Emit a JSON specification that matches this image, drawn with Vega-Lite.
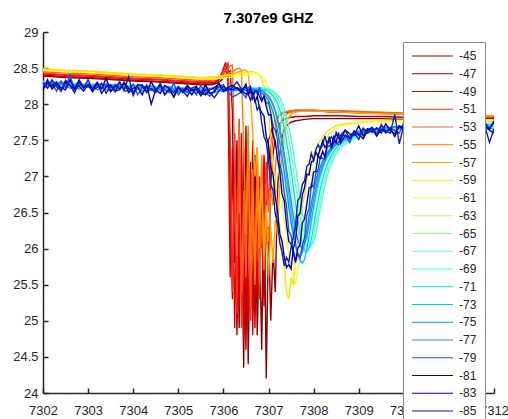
{"$schema":"https://vega.github.io/schema/vega-lite/v6.json","width":451,"height":361,"autosize":{"type":"none"},"padding":{"left":43,"top":32,"right":14,"bottom":26},
"title":{"text":"7.307e9 GHZ","font":"Liberation Sans","fontSize":15,"fontWeight":"bold","color":"#000000","offset":0,"anchor":"middle"},
"config":{"view":{"stroke":null},"axis":{"grid":false,"domainColor":"#262626","tickColor":"#262626","labelColor":"#262626","labelFont":"Liberation Sans","labelFontSize":13,"domainWidth":1.5,"tickWidth":1.5,"tickSize":-5}},
"data":{"values":[
{"x":7302,"n45":28.39,"n47":28.4,"n49":28.42,"n51":28.43,"n53":28.45,"n55":28.47,"n57":28.48,"n59":28.49,"n61":28.47,"n63":28.3,"n65":28.32,"n67":28.29,"n69":28.31,"n71":28.27,"n73":28.3,"n75":28.24,"n77":28.3,"n79":28.26,"n81":28.19,"n83":28.22,"n85":28.3},
{"x":7302.1,"n79":28.23,"n81":28.34,"n83":28.3,"n85":28.22},
{"x":7302.2,"n63":28.32,"n65":28.3,"n67":28.31,"n69":28.29,"n71":28.31,"n73":28.26,"n75":28.29,"n77":28.24,"n79":28.29,"n81":28.21,"n83":28.25,"n85":28.34},
{"x":7302.3,"n79":28.18,"n81":28.28,"n83":28.31,"n85":28.24},
{"x":7302.4,"n63":28.29,"n65":28.31,"n67":28.28,"n69":28.3,"n71":28.26,"n73":28.31,"n75":28.22,"n77":28.29,"n79":28.32,"n81":28.23,"n83":28.18,"n85":28.19},
{"x":7302.5,"n45":28.37,"n47":28.38,"n49":28.4,"n51":28.41,"n53":28.43,"n55":28.45,"n57":28.46,"n59":28.47,"n61":28.45,"n79":28.23,"n81":28.2,"n83":28.33,"n85":28.3},
{"x":7302.6,"n63":28.3,"n65":28.28,"n67":28.29,"n69":28.27,"n71":28.3,"n73":28.25,"n75":28.28,"n77":28.22,"n79":28.4,"n81":28.34,"n83":28.26,"n85":28.26},
{"x":7302.7,"n79":28.2,"n81":28.21,"n83":28.21,"n85":28.16},
{"x":7302.8,"n63":28.28,"n65":28.3,"n67":28.27,"n69":28.29,"n71":28.25,"n73":28.29,"n75":28.21,"n77":28.29,"n79":28.27,"n81":28.25,"n83":28.34,"n85":28.31},
{"x":7302.9,"n79":28.24,"n81":28.18,"n83":28.23,"n85":28.22},
{"x":7303,"n45":28.36,"n47":28.37,"n49":28.39,"n51":28.4,"n53":28.42,"n55":28.44,"n57":28.45,"n59":28.46,"n61":28.44,"n63":28.29,"n65":28.27,"n67":28.28,"n69":28.26,"n71":28.28,"n73":28.24,"n75":28.27,"n77":28.23,"n79":28.28,"n81":28.27,"n83":28.26,"n85":28.34},
{"x":7303.1,"n79":28.17,"n81":28.22,"n83":28.18,"n85":28.2},
{"x":7303.2,"n63":28.27,"n65":28.29,"n67":28.26,"n69":28.28,"n71":28.24,"n73":28.28,"n75":28.2,"n77":28.27,"n79":28.27,"n81":28.3,"n83":28.3,"n85":28.23},
{"x":7303.3,"n79":28.22,"n81":28.15,"n83":28.21,"n85":28.29},
{"x":7303.4,"n63":28.28,"n65":28.26,"n67":28.27,"n69":28.25,"n71":28.27,"n73":28.23,"n75":28.26,"n77":28.2,"n79":28.28,"n81":28.24,"n83":28.36,"n85":28.15},
{"x":7303.5,"n45":28.34,"n47":28.35,"n49":28.37,"n51":28.38,"n53":28.4,"n55":28.42,"n57":28.43,"n59":28.44,"n61":28.42,"n79":28.17,"n81":28.27,"n83":28.18,"n85":28.25},
{"x":7303.6,"n63":28.26,"n65":28.28,"n67":28.25,"n69":28.27,"n71":28.23,"n73":28.28,"n75":28.21,"n77":28.27,"n79":28.24,"n81":28.18,"n83":28.26,"n85":28.17},
{"x":7303.7,"n79":28.31,"n81":28.2,"n83":28.21,"n85":28.3},
{"x":7303.8,"n63":28.27,"n65":28.25,"n67":28.26,"n69":28.24,"n71":28.27,"n73":28.22,"n75":28.25,"n77":28.21,"n79":28.18,"n81":28.3,"n83":28.3,"n85":28.2},
{"x":7303.9,"n79":28.19,"n81":28.16,"n83":28.22,"n85":28.38},
{"x":7304,"n45":28.32,"n47":28.33,"n49":28.35,"n51":28.36,"n53":28.38,"n55":28.4,"n57":28.41,"n59":28.42,"n61":28.4,"n63":28.25,"n65":28.27,"n67":28.24,"n69":28.26,"n71":28.22,"n73":28.26,"n75":28.18,"n77":28.26,"n79":28.28,"n81":28.22,"n83":28.15,"n85":28.12},
{"x":7304.1,"n79":28.13,"n81":28.24,"n83":28.27,"n85":28.26},
{"x":7304.2,"n63":28.26,"n65":28.24,"n67":28.25,"n69":28.23,"n71":28.25,"n73":28.21,"n75":28.24,"n77":28.18,"n79":28.23,"n81":28.13,"n83":28.25,"n85":28.27},
{"x":7304.3,"n79":28.25,"n81":28.26,"n83":28.17,"n85":28.16},
{"x":7304.4,"n63":28.24,"n65":28.26,"n67":28.23,"n69":28.25,"n71":28.21,"n73":28.25,"n75":28.19,"n77":28.25,"n79":28.2,"n81":28,"n83":28.31,"n85":28.22},
{"x":7304.5,"n45":28.31,"n47":28.32,"n49":28.34,"n51":28.35,"n53":28.37,"n55":28.39,"n57":28.4,"n59":28.41,"n61":28.39,"n79":28.16,"n81":28.2,"n83":28.2,"n85":28.18},
{"x":7304.6,"n63":28.25,"n65":28.23,"n67":28.24,"n69":28.22,"n71":28.24,"n73":28.21,"n75":28.23,"n77":28.19,"n79":28.27,"n81":28.27,"n83":28.15,"n85":28.29},
{"x":7304.7,"n79":28.2,"n81":28.13,"n83":28.26,"n85":28.13},
{"x":7304.8,"n63":28.23,"n65":28.25,"n67":28.22,"n69":28.24,"n71":28.2,"n73":28.24,"n75":28.16,"n77":28.24,"n79":28.17,"n81":28.21,"n83":28.22,"n85":28.22},
{"x":7304.9,"n79":28.29,"n81":28.1,"n83":28.1,"n85":28.16},
{"x":7305,"n45":28.29,"n47":28.3,"n49":28.32,"n51":28.33,"n53":28.35,"n55":28.37,"n57":28.38,"n59":28.39,"n61":28.37,"n63":28.24,"n65":28.22,"n67":28.23,"n69":28.21,"n71":28.24,"n73":28.19,"n75":28.22,"n77":28.17,"n79":28.13,"n81":28.23,"n83":28.24,"n85":28.24},
{"x":7305.1,"n79":28.22,"n81":28.16,"n83":28.17,"n85":28.18},
{"x":7305.2,"n63":28.22,"n65":28.24,"n67":28.21,"n69":28.23,"n71":28.19,"n73":28.23,"n75":28.16,"n77":28.23,"n79":28.17,"n81":28.22,"n83":28.26,"n85":28.11},
{"x":7305.3,"n79":28.22,"n81":28.13,"n83":28.19,"n85":28.22},
{"x":7305.4,"n63":28.23,"n65":28.21,"n67":28.22,"n69":28.2,"n71":28.22,"n73":28.18,"n75":28.21,"n77":28.16,"n79":28.13,"n81":28.24,"n83":28.21,"n85":28.25},
{"x":7305.5,"n45":28.27,"n47":28.28,"n49":28.3,"n51":28.31,"n53":28.33,"n55":28.35,"n57":28.36,"n59":28.37,"n61":28.35,"n79":28.26,"n81":28.16,"n83":28.12,"n85":28.12},
{"x":7305.6,"n63":28.21,"n65":28.23,"n67":28.2,"n69":28.22,"n71":28.18,"n73":28.22,"n75":28.15,"n77":28.21,"n79":28.16,"n81":28.13,"n83":28.27,"n85":28.2},
{"x":7305.7,"n79":28.11,"n81":28.2,"n83":28.15,"n85":28.16},
{"x":7305.75,"n45":28.27,"n47":28.28,"n49":28.3,"n51":28.31,"n53":28.33,"n55":28.35,"n57":28.36,"n59":28.38,"n61":28.35},
{"x":7305.8,"n45":28.28,"n47":28.29,"n49":28.31,"n51":28.32,"n53":28.34,"n55":28.35,"n57":28.36,"n59":28.38,"n61":28.35,"n63":28.23,"n65":28.22,"n67":28.22,"n69":28.21,"n71":28.24,"n73":28.21,"n75":28.16,"n77":28.22,"n79":28.19,"n81":28.23,"n83":28.17,"n85":28.09},
{"x":7305.85,"n45":28.29,"n47":28.31,"n49":28.33,"n51":28.34,"n53":28.35,"n55":28.36,"n57":28.37,"n59":28.38,"n61":28.35},
{"x":7305.9,"n45":28.31,"n47":28.34,"n49":28.36,"n51":28.37,"n53":28.37,"n55":28.37,"n57":28.37,"n59":28.39,"n61":28.36,"n79":28.24,"n81":28.28,"n83":28.29,"n85":28.18},
{"x":7305.95,"n45":28.33,"n47":28.37,"n49":28.41,"n51":28.41,"n53":28.39,"n55":28.38,"n57":28.38,"n59":28.39,"n61":28.36},
{"x":7306,"n45":28.36,"n47":28.42,"n49":28.49,"n51":28.46,"n53":28.42,"n55":28.39,"n57":28.39,"n59":28.39,"n61":28.36,"n63":28.22,"n65":28.23,"n67":28.2,"n69":28.22,"n71":28.2,"n73":28.24,"n75":28.22,"n77":28.17,"n79":28.27,"n81":28.18,"n83":28.19,"n85":28.25},
{"x":7306.05,"n45":28.39,"n47":28.47,"n49":28.58,"n51":28.52,"n53":28.45,"n55":28.41,"n57":28.39,"n59":28.4,"n61":28.37},
{"x":7306.1,"n45":28.43,"n47":28.52,"n49":28.3,"n51":28.57,"n53":28.49,"n55":28.42,"n57":28.4,"n59":28.4,"n61":28.37,"n79":28.17,"n81":28.21,"n83":28.23,"n85":28.19},
{"x":7306.15,"n45":28.46,"n47":26.9,"n49":25.6,"n51":27.6,"n53":28.53,"n55":28.44,"n57":28.41,"n59":28.4,"n61":28.37},
{"x":7306.2,"n45":27.9,"n47":25.3,"n49":27.4,"n51":25.4,"n53":28.54,"n55":28.46,"n57":28.42,"n59":28.41,"n61":28.38,"n63":28.23,"n65":28.22,"n67":28.22,"n69":28.21,"n71":28.23,"n73":28.2,"n75":28.18,"n77":28.23,"n79":28.1,"n81":28.2,"n83":28.26,"n85":28.23},
{"x":7306.25,"n45":25.8,"n47":27.6,"n49":24.9,"n51":26.9,"n53":27.2,"n55":28.47,"n57":28.43,"n59":28.41,"n61":28.38},
{"x":7306.3,"n45":27.5,"n47":24.8,"n49":26.8,"n51":25.1,"n53":25.9,"n55":28.49,"n57":28.44,"n59":28.42,"n61":28.38,"n79":28.13,"n81":28.23,"n83":28.22,"n85":28.31},
{"x":7306.35,"n45":24.9,"n47":26.5,"n49":25.2,"n51":27.8,"n53":27.7,"n55":28.5,"n57":28.45,"n59":28.42,"n61":28.39},
{"x":7306.4,"n45":26.9,"n47":25.6,"n49":27.6,"n51":24.9,"n53":25.4,"n55":28.47,"n57":28.46,"n59":28.43,"n61":28.39,"n63":28.22,"n65":28.23,"n67":28.21,"n69":28.22,"n71":28.21,"n73":28.22,"n75":28.21,"n77":28.19,"n79":28.17,"n81":28.19,"n83":28.16,"n85":28.21},
{"x":7306.45,"n45":24.35,"n47":27.4,"n49":24.7,"n51":26.4,"n53":26.8,"n55":27.4,"n57":28.47,"n59":28.43,"n61":28.4},
{"x":7306.5,"n45":27.7,"n47":24.6,"n49":26.2,"n51":25.7,"n53":25.6,"n55":26.2,"n57":28.47,"n59":28.44,"n61":28.4,"n63":28.23,"n65":28.23,"n67":28.22,"n69":28.22,"n71":28.21,"n73":28.21,"n75":28.19,"n77":28.2,"n79":28.09,"n81":28.14,"n83":28.28,"n85":28.24},
{"x":7306.55,"n45":24.4,"n47":26.9,"n49":25.0,"n51":27.5,"n53":27.6,"n55":27.7,"n57":28.44,"n59":28.44,"n61":28.41,"n63":28.23,"n65":28.23,"n67":28.22,"n69":28.22,"n71":28.21,"n73":28.21,"n75":28.19,"n77":28.2,"n79":28.23,"n81":28.15,"n83":28.13,"n85":28.14},
{"x":7306.6,"n45":26.4,"n47":25.2,"n49":27.2,"n51":25.0,"n53":25.2,"n55":25.8,"n57":28.1,"n59":28.45,"n61":28.41,"n63":28.23,"n65":28.23,"n67":28.22,"n69":28.22,"n71":28.21,"n73":28.21,"n75":28.19,"n77":28.2,"n79":28.25,"n81":28.23,"n83":28.17,"n85":28.05},
{"x":7306.65,"n45":25.1,"n47":27.5,"n49":24.8,"n51":26.3,"n53":26.5,"n55":27.1,"n57":27.6,"n59":28.45,"n61":28.42,"n63":28.23,"n65":28.23,"n67":28.22,"n69":28.22,"n71":28.21,"n73":28.21,"n75":28.19,"n77":28.2,"n79":28.13,"n81":28.08,"n83":28.16,"n85":28.13},
{"x":7306.7,"n45":27.3,"n47":24.9,"n49":26.5,"n51":25.6,"n53":25.8,"n55":25.5,"n57":27.0,"n59":28.44,"n61":28.42,"n63":28.22,"n65":28.23,"n67":28.22,"n69":28.22,"n71":28.21,"n73":28.21,"n75":28.18,"n77":28.2,"n79":28.19,"n81":28.18,"n83":28.03,"n85":28.07},
{"x":7306.75,"n45":24.8,"n47":26.6,"n49":25.4,"n51":27.4,"n53":27.3,"n55":26.8,"n57":27.4,"n59":28.43,"n61":28.42,"n63":28.22,"n65":28.23,"n67":28.22,"n69":28.22,"n71":28.21,"n73":28.2,"n75":28.18,"n77":28.19,"n79":28.14,"n81":28.18,"n83":28.11,"n85":27.92},
{"x":7306.8,"n45":26.1,"n47":25.5,"n49":27.0,"n51":25.3,"n53":25.5,"n55":26.0,"n57":26.4,"n59":28.4,"n61":28.41,"n63":28.21,"n65":28.22,"n67":28.22,"n69":28.22,"n71":28.21,"n73":28.2,"n75":28.17,"n77":28.19,"n79":28.24,"n81":28.11,"n83":27.95,"n85":27.97},
{"x":7306.85,"n45":24.6,"n47":27.1,"n49":26.0,"n51":26.7,"n53":26.4,"n55":27.3,"n57":26.9,"n59":28.34,"n61":28.39,"n63":28.19,"n65":28.22,"n67":28.22,"n69":28.22,"n71":28.2,"n73":28.19,"n75":28.15,"n77":28.18,"n79":28.06,"n81":28.04,"n83":27.88,"n85":27.74},
{"x":7306.9,"n45":27.0,"n47":25.2,"n49":27.3,"n51":26.0,"n53":25.9,"n55":25.7,"n57":25.9,"n59":28.25,"n61":28.35,"n63":28.17,"n65":28.21,"n67":28.21,"n69":28.22,"n71":28.2,"n73":28.17,"n75":28.13,"n77":28.16,"n79":28.11,"n81":28.11,"n83":27.84,"n85":27.55},
{"x":7306.95,"n45":24.2,"n47":26.4,"n49":26.6,"n51":27.2,"n53":26.9,"n55":26.5,"n57":26.6,"n59":28.1,"n61":28.29,"n63":28.13,"n65":28.19,"n67":28.21,"n69":28.21,"n71":28.19,"n73":28.14,"n75":28.1,"n77":28.14,"n79":28.01,"n81":27.97,"n83":27.55,"n85":27.48},
{"x":7307,"n45":26.3,"n47":25.7,"n49":27.5,"n51":26.6,"n53":26.5,"n55":26.1,"n57":25.6,"n59":27.85,"n61":28.2,"n63":28.09,"n65":28.17,"n67":28.2,"n69":28.21,"n71":28.17,"n73":28.11,"n75":28.05,"n77":28.11,"n79":28.03,"n81":27.85,"n83":27.44,"n85":27.23},
{"x":7307.05,"n45":25.0,"n47":26.9,"n49":27.6,"n51":27.4,"n53":27.2,"n55":26.8,"n57":26.3,"n59":27.5,"n61":28.05,"n63":28.02,"n65":28.14,"n67":28.18,"n69":28.2,"n71":28.15,"n73":28.06,"n75":27.98,"n77":28.06,"n79":27.88,"n81":27.86,"n83":27.12,"n85":26.89},
{"x":7307.1,"n45":26.0,"n47":27.3,"n49":27.7,"n51":27.65,"n53":27.5,"n55":26.6,"n57":25.8,"n59":27.15,"n61":27.85,"n63":27.93,"n65":28.09,"n67":28.16,"n69":28.18,"n71":28.12,"n73":27.99,"n75":27.89,"n77":28.0,"n79":27.69,"n81":27.57,"n83":27.03,"n85":26.8},
{"x":7307.15,"n45":25.4,"n47":27.55,"n49":27.78,"n51":27.77,"n53":27.7,"n55":27.1,"n57":26.4,"n59":26.9,"n61":27.55,"n63":27.81,"n65":28.02,"n67":28.13,"n69":28.16,"n71":28.07,"n73":27.9,"n75":27.78,"n77":27.91,"n79":27.65,"n81":27.49,"n83":26.71,"n85":26.48},
{"x":7307.2,"n45":26.8,"n47":27.67,"n49":27.82,"n51":27.83,"n53":27.8,"n55":27.45,"n57":26.2,"n59":26.5,"n61":27.25,"n63":27.67,"n65":27.93,"n67":28.08,"n69":28.13,"n71":28.01,"n73":27.78,"n75":27.64,"n77":27.8,"n79":27.52,"n81":27.24,"n83":26.52,"n85":26.35},
{"x":7307.25,"n45":27.3,"n47":27.73,"n49":27.85,"n51":27.86,"n53":27.85,"n55":27.65,"n57":26.9,"n59":26.3,"n61":26.95,"n63":27.49,"n65":27.82,"n67":28.02,"n69":28.09,"n71":27.92,"n73":27.63,"n75":27.46,"n77":27.67,"n79":27.18,"n81":27.07,"n83":26.2,"n85":26.08},
{"x":7307.3,"n45":27.55,"n47":27.77,"n49":27.87,"n51":27.88,"n53":27.88,"n55":27.77,"n57":27.3,"n59":25.9,"n61":26.7,"n63":27.29,"n65":27.68,"n67":27.93,"n69":28.02,"n71":27.8,"n73":27.45,"n75":27.27,"n77":27.5,"n79":27.04,"n81":26.76,"n83":26.11,"n85":25.95},
{"x":7307.35,"n45":27.65,"n47":27.79,"n49":27.88,"n51":27.89,"n53":27.89,"n55":27.83,"n57":27.6,"n59":25.8,"n61":26.4,"n63":27.07,"n65":27.51,"n67":27.82,"n69":27.94,"n71":27.66,"n73":27.24,"n75":27.05,"n77":27.31,"n79":26.77,"n81":26.66,"n83":25.88,"n85":25.76},
{"x":7307.4,"n45":27.7,"n47":27.8,"n49":27.88,"n51":27.9,"n53":27.9,"n55":27.86,"n57":27.75,"n59":25.4,"n61":26.2,"n63":26.83,"n65":27.31,"n67":27.68,"n69":27.83,"n71":27.49,"n73":27.01,"n75":26.82,"n77":27.1,"n79":26.59,"n81":26.34,"n83":25.74,"n85":25.88},
{"x":7307.45,"n45":27.73,"n47":27.81,"n49":27.89,"n51":27.9,"n53":27.9,"n55":27.88,"n57":27.82,"n59":25.3,"n61":25.9,"n63":26.59,"n65":27.09,"n67":27.52,"n69":27.7,"n71":27.3,"n73":26.76,"n75":26.58,"n77":26.88,"n79":26.24,"n81":26.1,"n83":25.78,"n85":25.81},
{"x":7307.5,"n45":27.75,"n47":27.82,"n49":27.89,"n51":27.91,"n53":27.91,"n55":27.89,"n57":27.86,"n59":25.6,"n61":25.75,"n63":26.37,"n65":26.86,"n67":27.32,"n69":27.53,"n71":27.08,"n73":26.52,"n75":26.37,"n77":26.66,"n79":26.19,"n81":26.07,"n83":25.72,"n85":26.02},
{"x":7307.55,"n45":27.76,"n47":27.82,"n49":27.9,"n51":27.91,"n53":27.91,"n55":27.9,"n57":27.88,"n59":25.5,"n61":25.6,"n63":26.18,"n65":26.63,"n67":27.11,"n69":27.34,"n71":26.85,"n73":26.29,"n75":26.18,"n77":26.45,"n79":25.98,"n81":25.94,"n83":26.0,"n85":26.16},
{"x":7307.6,"n45":27.77,"n47":27.83,"n49":27.9,"n51":27.91,"n53":27.92,"n55":27.9,"n57":27.89,"n59":25.9,"n61":25.5,"n63":26.03,"n65":26.41,"n67":26.89,"n69":27.14,"n71":26.62,"n73":26.09,"n75":26.03,"n77":26.27,"n79":25.83,"n81":25.81,"n83":26.11,"n85":26.33},
{"x":7307.65,"n59":26.1,"n61":25.7,"n63":25.93,"n65":26.22,"n67":26.66,"n69":26.92,"n71":26.41,"n73":25.93,"n75":25.93,"n77":26.12,"n79":25.93,"n81":26.01,"n83":26.45,"n85":26.67},
{"x":7307.7,"n45":27.78,"n47":27.83,"n49":27.9,"n51":27.91,"n53":27.92,"n55":27.9,"n57":27.9,"n59":26.3,"n61":25.85,"n63":25.9,"n65":26.08,"n67":26.45,"n69":26.7,"n71":26.22,"n73":25.83,"n75":25.9,"n77":26.03,"n79":25.87,"n81":26.05,"n83":26.49,"n85":26.71},
{"x":7307.75,"n59":26.6,"n61":26.1,"n63":25.95,"n65":25.98,"n67":26.27,"n69":26.49,"n71":26.07,"n73":25.8,"n75":25.95,"n77":26.0,"n79":26.04,"n81":26.36,"n83":26.74,"n85":26.89},
{"x":7307.8,"n45":27.79,"n47":27.83,"n49":27.9,"n51":27.91,"n53":27.92,"n55":27.9,"n57":27.9,"n59":26.75,"n61":26.35,"n63":26.08,"n65":25.95,"n67":26.12,"n69":26.31,"n71":25.98,"n73":25.85,"n75":26.08,"n77":26.05,"n79":26.15,"n81":26.41,"n83":26.85,"n85":26.94},
{"x":7307.85,"n59":26.95,"n61":26.6,"n63":26.26,"n65":26.0,"n67":26.03,"n69":26.17,"n71":25.95,"n73":25.99,"n75":26.26,"n77":26.17,"n79":26.46,"n81":26.62,"n83":27.03,"n85":27.14},
{"x":7307.9,"n59":27.1,"n61":26.8,"n63":26.46,"n65":26.13,"n67":26.0,"n69":26.08,"n71":26.0,"n73":26.18,"n75":26.45,"n77":26.34,"n79":26.56,"n81":26.84,"n83":27.02,"n85":27.17},
{"x":7307.95,"n59":27.2,"n61":26.95,"n63":26.64,"n65":26.3,"n67":26.05,"n69":26.05,"n71":26.13,"n73":26.39,"n75":26.63,"n77":26.52,"n79":26.89,"n81":26.85,"n83":27.2,"n85":27.32},
{"x":7308,"n45":27.8,"n47":27.84,"n49":27.9,"n51":27.91,"n53":27.92,"n55":27.9,"n57":27.9,"n59":27.3,"n61":27.1,"n63":26.8,"n65":26.49,"n67":26.17,"n69":26.09,"n71":26.3,"n73":26.58,"n75":26.79,"n77":26.69,"n79":26.85,"n81":27.06,"n83":27.22,"n85":27.22},
{"x":7308.05,"n63":26.94,"n65":26.67,"n67":26.34,"n69":26.21,"n71":26.49,"n73":26.75,"n75":26.93,"n77":26.84,"n79":27.04,"n81":27.07,"n83":27.34,"n85":27.37},
{"x":7308.1,"n59":27.45,"n61":27.3,"n63":27.05,"n65":26.83,"n67":26.52,"n69":26.38,"n71":26.67,"n73":26.9,"n75":27.04,"n77":26.97,"n79":27.09,"n81":27.28,"n83":27.28,"n85":27.44},
{"x":7308.15,"n63":27.15,"n65":26.96,"n67":26.7,"n69":26.56,"n71":26.83,"n73":27.02,"n75":27.13,"n77":27.08,"n79":27.27,"n81":27.25,"n83":27.39,"n85":27.38},
{"x":7308.2,"n45":27.8,"n47":27.84,"n49":27.9,"n51":27.9,"n53":27.91,"n55":27.9,"n57":27.9,"n59":27.55,"n61":27.45,"n63":27.22,"n65":27.07,"n67":26.85,"n69":26.73,"n71":26.96,"n73":27.12,"n75":27.21,"n77":27.16,"n79":27.25,"n81":27.35,"n83":27.49,"n85":27.43},
{"x":7308.25,"n63":27.29,"n65":27.16,"n67":26.98,"n69":26.88,"n71":27.07,"n73":27.2,"n75":27.27,"n77":27.24,"n79":27.23,"n81":27.27,"n83":27.4,"n85":27.56},
{"x":7308.3,"n59":27.62,"n61":27.55,"n63":27.34,"n65":27.24,"n67":27.09,"n69":27.0,"n71":27.16,"n73":27.27,"n75":27.32,"n77":27.3,"n79":27.4,"n81":27.44,"n83":27.44,"n85":27.44},
{"x":7308.35,"n63":27.38,"n65":27.3,"n67":27.18,"n69":27.11,"n71":27.24,"n73":27.32,"n75":27.37,"n77":27.34,"n79":27.43,"n81":27.5,"n83":27.55,"n85":27.52},
{"x":7308.4,"n45":27.8,"n47":27.84,"n49":27.89,"n51":27.9,"n53":27.91,"n55":27.89,"n57":27.9,"n59":27.67,"n61":27.62,"n63":27.42,"n65":27.35,"n67":27.25,"n69":27.19,"n71":27.3,"n73":27.37,"n75":27.4,"n77":27.38,"n79":27.38,"n81":27.41,"n83":27.41,"n85":27.55},
{"x":7308.45,"n63":27.45,"n65":27.39,"n67":27.31,"n69":27.26,"n71":27.35,"n73":27.41,"n75":27.44,"n77":27.42,"n79":27.55,"n81":27.49,"n83":27.54,"n85":27.47},
{"x":7308.5,"n59":27.7,"n61":27.67,"n63":27.48,"n65":27.43,"n67":27.36,"n69":27.32,"n71":27.39,"n73":27.44,"n75":27.46,"n77":27.45,"n79":27.46,"n81":27.47,"n83":27.58,"n85":27.61},
{"x":7308.55,"n63":27.5,"n65":27.46,"n67":27.4,"n69":27.37,"n71":27.43,"n73":27.47,"n75":27.48,"n77":27.47,"n79":27.44,"n81":27.61,"n83":27.54,"n85":27.53},
{"x":7308.6,"n45":27.8,"n47":27.84,"n49":27.89,"n51":27.9,"n53":27.91,"n55":27.89,"n57":27.89,"n59":27.72,"n61":27.7,"n63":27.52,"n65":27.49,"n67":27.44,"n69":27.41,"n71":27.46,"n73":27.49,"n75":27.5,"n77":27.49,"n79":27.56,"n81":27.46,"n83":27.51,"n85":27.57},
{"x":7308.7,"n79":27.57,"n81":27.57,"n83":27.64,"n85":27.64},
{"x":7308.8,"n63":27.55,"n65":27.53,"n67":27.5,"n69":27.48,"n71":27.52,"n73":27.55,"n75":27.57,"n77":27.55,"n79":27.47,"n81":27.53,"n83":27.59,"n85":27.52},
{"x":7308.9,"n79":27.63,"n81":27.63,"n83":27.57,"n85":27.61},
{"x":7309,"n45":27.8,"n47":27.83,"n49":27.88,"n51":27.89,"n53":27.9,"n55":27.88,"n57":27.88,"n59":27.75,"n61":27.74,"n63":27.61,"n65":27.59,"n67":27.57,"n69":27.56,"n71":27.59,"n73":27.61,"n75":27.63,"n77":27.6,"n79":27.57,"n81":27.58,"n83":27.7,"n85":27.51},
{"x":7309.1,"n79":27.67,"n81":27.52,"n83":27.56,"n85":27.66},
{"x":7309.2,"n63":27.64,"n65":27.63,"n67":27.62,"n69":27.61,"n71":27.63,"n73":27.64,"n75":27.6,"n77":27.66,"n79":27.61,"n81":27.64,"n83":27.66,"n85":27.6},
{"x":7309.3,"n79":27.64,"n81":27.68,"n83":27.61,"n85":27.66},
{"x":7309.4,"n63":27.66,"n65":27.65,"n67":27.65,"n69":27.64,"n71":27.65,"n73":27.66,"n75":27.67,"n77":27.62,"n79":27.56,"n81":27.56,"n83":27.67,"n85":27.58},
{"x":7309.5,"n45":27.8,"n47":27.83,"n49":27.87,"n51":27.88,"n53":27.89,"n55":27.87,"n57":27.87,"n59":27.77,"n61":27.76,"n79":27.72,"n81":27.65,"n83":27.6,"n85":27.71},
{"x":7309.6,"n63":27.68,"n65":27.67,"n67":27.66,"n69":27.66,"n71":27.67,"n73":27.67,"n75":27.63,"n77":27.68,"n79":27.6,"n81":27.61,"n83":27.73,"n85":27.63},
{"x":7309.7,"n79":27.67,"n81":27.67,"n83":27.63,"n85":27.6},
{"x":7309.8,"n63":27.69,"n65":27.68,"n67":27.68,"n69":27.67,"n71":27.68,"n73":27.69,"n75":27.69,"n77":27.64,"n79":27.63,"n81":27.55,"n83":27.59,"n85":27.86},
{"x":7309.9,"n79":27.6,"n81":27.7,"n83":27.7,"n85":27.45},
{"x":7310,"n45":27.79,"n47":27.82,"n49":27.86,"n51":27.87,"n53":27.88,"n55":27.86,"n57":27.86,"n59":27.78,"n61":27.77,"n63":27.7,"n65":27.69,"n67":27.69,"n69":27.68,"n71":27.69,"n73":27.68,"n75":27.64,"n77":27.7,"n79":27.75,"n81":27.64,"n83":27.67,"n85":27.71},
{"x":7310.1,"n79":27.62,"n81":27.59,"n83":27.57,"n85":27.62},
{"x":7310.2,"n63":27.7,"n65":27.7,"n67":27.7,"n69":27.69,"n71":27.69,"n73":27.7,"n75":27.68,"n77":27.65,"n79":27.66,"n81":27.72,"n83":27.72,"n85":27.76},
{"x":7310.3,"n79":27.59,"n81":27.61,"n83":27.63,"n85":27.6},
{"x":7310.4,"n63":27.71,"n65":27.7,"n67":27.7,"n69":27.7,"n71":27.7,"n73":27.68,"n75":27.62,"n77":27.69,"n79":27.69,"n81":27.65,"n83":27.76,"n85":27.67},
{"x":7310.5,"n45":27.79,"n47":27.82,"n49":27.85,"n51":27.86,"n53":27.87,"n55":27.85,"n57":27.86,"n59":27.78,"n61":27.77,"n79":27.65,"n81":27.58,"n83":27.63,"n85":27.65},
{"x":7310.6,"n63":27.71,"n65":27.71,"n67":27.71,"n69":27.7,"n71":27.7,"n73":27.71,"n75":27.7,"n77":27.63,"n79":27.73,"n81":27.7,"n83":27.66,"n85":27.7},
{"x":7310.7,"n79":27.58,"n81":27.61,"n83":27.72,"n85":27.59},
{"x":7310.8,"n63":27.72,"n65":27.71,"n67":27.71,"n69":27.71,"n71":27.71,"n73":27.69,"n75":27.66,"n77":27.7,"n79":27.68,"n81":27.77,"n83":27.59,"n85":27.69},
{"x":7310.9,"n79":27.71,"n81":27.59,"n83":27.69,"n85":27.64},
{"x":7311,"n45":27.78,"n47":27.81,"n49":27.84,"n51":27.85,"n53":27.86,"n55":27.84,"n57":27.85,"n59":27.78,"n61":27.77,"n63":27.72,"n65":27.71,"n67":27.72,"n69":27.71,"n71":27.7,"n73":27.7,"n75":27.69,"n77":27.66,"n79":27.62,"n81":27.67,"n83":27.61,"n85":27.71},
{"x":7311.1,"n79":27.65,"n81":27.63,"n83":27.75,"n85":27.61},
{"x":7311.2,"n63":27.72,"n65":27.72,"n67":27.72,"n69":27.72,"n71":27.71,"n73":27.71,"n75":27.63,"n77":27.71,"n79":27.76,"n81":27.73,"n83":27.66,"n85":27.68},
{"x":7311.3,"n79":27.62,"n81":27.65,"n83":27.71,"n85":27.75},
{"x":7311.4,"n63":27.73,"n65":27.72,"n67":27.72,"n69":27.72,"n71":27.71,"n73":27.69,"n75":27.7,"n77":27.64,"n79":27.68,"n81":27.58,"n83":27.58,"n85":27.63},
{"x":7311.5,"n45":27.78,"n47":27.81,"n49":27.83,"n51":27.84,"n53":27.85,"n55":27.83,"n57":27.84,"n59":27.78,"n61":27.77,"n79":27.7,"n81":27.7,"n83":27.72,"n85":27.64},
{"x":7311.6,"n63":27.73,"n65":27.72,"n67":27.73,"n69":27.72,"n71":27.72,"n73":27.71,"n75":27.66,"n77":27.69,"n79":27.6,"n81":27.69,"n83":27.74,"n85":27.73},
{"x":7311.7,"n79":27.73,"n81":27.61,"n83":27.63,"n85":27.58},
{"x":7311.8,"n63":27.73,"n65":27.73,"n67":27.73,"n69":27.73,"n71":27.71,"n73":27.7,"n75":27.71,"n77":27.67,"n79":27.64,"n81":27.75,"n83":27.69,"n85":27.69},
{"x":7311.9,"n79":27.67,"n81":27.64,"n83":27.65,"n85":27.47},
{"x":7312,"n45":27.77,"n47":27.8,"n49":27.82,"n51":27.83,"n53":27.84,"n55":27.83,"n57":27.84,"n59":27.78,"n61":27.77,"n63":27.74,"n65":27.73,"n67":27.73,"n69":27.73,"n71":27.72,"n73":27.72,"n75":27.65,"n77":27.7,"n79":27.75,"n81":27.6,"n83":27.77,"n85":27.66}
]},
"transform":[{"fold":["n45","n47","n49","n51","n53","n55","n57","n59","n61","n63","n65","n67","n69","n71","n73","n75","n77","n79","n81","n83","n85"],"as":["s","y"]},{"filter":"isValid(datum.y)"}],
"mark":{"type":"line","strokeWidth":1.4,"clip":true},
"encoding":{
"x":{"field":"x","type":"quantitative","scale":{"domain":[7302,7312],"nice":false,"zero":false},"axis":{"title":null,"values":[7302,7303,7304,7305,7306,7307,7308,7309,7310,7311,7312],"format":"d","labelPadding":16,"labelFlush":false}},
"y":{"field":"y","type":"quantitative","scale":{"domain":[24,29],"nice":false,"zero":false},"axis":{"title":null,"values":[24,24.5,25,25.5,26,26.5,27,27.5,28,28.5,29],"format":"~g","labelPadding":10,"labelFlush":false}},
"color":{"field":"s","type":"nominal","scale":{"domain":["n45","n47","n49","n51","n53","n55","n57","n59","n61","n63","n65","n67","n69","n71","n73","n75","n77","n79","n81","n83","n85"],"range":["#8b0000","#b30000","#d90000","#ff2a1a","#ff5c26","#ff8000","#ffa600","#ffe000","#eeff33","#c2ff5c","#94ff94","#70ffb8","#47ffe0","#00e5ff","#00c3ff","#0095ff","#3d7dff","#1f4fe6","#0000c8","#000099","#0d1fb0"]},
"legend":{"title":null,"orient":"none","legendX":360,"legendY":10,"labelExpr":"'-' + slice(datum.label, 1)","symbolType":"stroke","symbolSize":1681,"symbolStrokeWidth":1.2,"labelFont":"Liberation Sans","labelFontSize":12,"labelColor":"#262626","fillColor":"#ffffff","strokeColor":"#8c8c8c","padding":8,"rowPadding":5.75,"columnPadding":0,"clipHeight":12,"labelOffset":5,"symbolLimit":0}}
}}
